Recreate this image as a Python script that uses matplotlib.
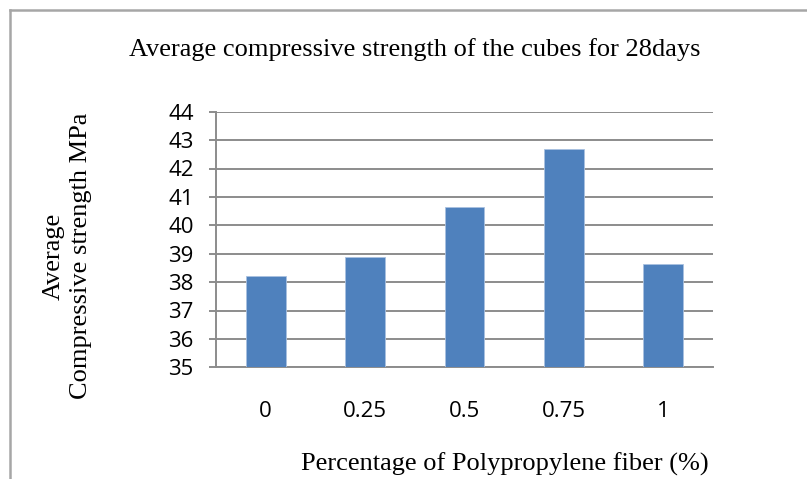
import matplotlib
matplotlib.use("Agg")
import matplotlib.pyplot as plt
from matplotlib.lines import Line2D

categories = ["0", "0.25", "0.5", "0.75", "1"]
values = [38.22, 38.87, 40.65, 42.70, 38.64]
yticks = [35, 36, 37, 38, 39, 40, 41, 42, 43, 44]

title = "Average compressive strength of the cubes for 28days"
xlabel = "Percentage of Polypropylene fiber (%)"
ylabel = "Average\nCompressive strength MPa"

W, H = 807, 479
fig = plt.figure(figsize=(W / 100, H / 100), dpi=100)

def fx(px):
    return px / W

def fy(py):
    return 1 - py / H

left, right, top, bottom = 216, 713, 111.7, 367.3
ax = fig.add_axes([fx(left), fy(bottom), fx(right - left), (bottom - top) / H])

x = list(range(len(categories)))
ax.bar(x, values, width=0.4, color="#4F81BD", edgecolor="#A9C1E0", linewidth=0.6, zorder=3)
ax.set_xlim(-0.5, len(categories) - 0.5)
ax.set_ylim(35, 44)
ax.set_yticks(yticks)
ax.set_xticks(x)
ax.set_xticklabels(categories)
grid_c = "#8C8C8C"
ax.yaxis.grid(True, color=grid_c, linewidth=1.4, zorder=0)
for s in ["top", "right"]:
    ax.spines[s].set_visible(False)
ax.spines["left"].set_color(grid_c)
ax.spines["left"].set_linewidth(1.4)
ax.spines["bottom"].set_color(grid_c)
ax.spines["bottom"].set_linewidth(1.4)
ax.tick_params(axis="y", length=5, width=1.4, color=grid_c, pad=11,
               labelsize=16, labelcolor="black")
ax.tick_params(axis="x", length=0, pad=24, labelsize=16, labelcolor="black")
for lab in ax.get_xticklabels() + ax.get_yticklabels():
    lab.set_fontfamily("Open Sans")

serif = "Liberation Serif"
fs = 19
fig.text(fx(415), fy(50), title, ha="center", va="center", fontsize=fs, family=serif)
fig.text(fx(505), fy(464), xlabel, ha="center", va="center", fontsize=fs, family=serif)
fig.text(fx(67), fy(256), ylabel, ha="center", va="center", rotation=90,
         multialignment="center", fontsize=fs, family=serif, linespacing=1.3)

border_c = "#A6A6A6"
fig.add_artist(Line2D([fx(10), fx(10)], [fy(10), 0], transform=fig.transFigure,
                      color=border_c, linewidth=1.8))
fig.add_artist(Line2D([fx(10), 1], [fy(10), fy(10)], transform=fig.transFigure,
                      color=border_c, linewidth=1.8))

fig.savefig("out.png", dpi=100, facecolor="white")
